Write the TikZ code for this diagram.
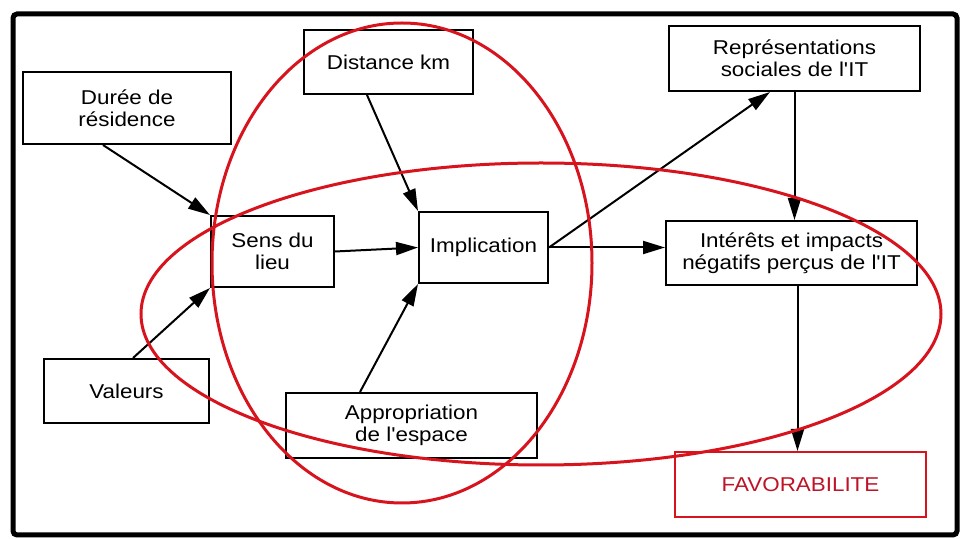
\documentclass[tikz,border=0pt]{standalone}
\usepackage{fontspec}
\newfontfamily\diagfont{Liberation Sans}[FakeStretch=1.12]
\usepackage{xcolor}
\usetikzlibrary{arrows.meta, positioning, calc}
\definecolor{markred}{RGB}{215,20,30}
\definecolor{textred}{RGB}{190,20,40}

\begin{document}
\begin{tikzpicture}[x=0.5pt, y=-0.5pt,
  box/.style={draw, line width=1pt, fill=white, align=center, inner sep=0pt,
    font=\diagfont\fontsize{10}{11.2}\selectfont},
  link/.style={-{Triangle[length=11pt,width=6.5pt]}, line width=1pt},
  zone/.style={draw=markred, line width=1.5pt}]
  \useasboundingbox (0,0) rectangle (960,539);
  % Frame
  \draw[line width=2.5pt, rounded corners=2pt] (13,14) rectangle (957,535);
  % Boxes
  \node[box, minimum width=104pt, minimum height=36pt] (duree) at (127,108) {Durée de\\résidence};
  \node[box, minimum width=84.5pt, minimum height=32pt] (distance) at (388.5,62) {Distance km};
  \node[box, minimum width=125.5pt, minimum height=32.5pt] (repres) at (794.5,58.5) {Représentations\\sociales de l'IT};
  \node[box, minimum width=61.5pt, minimum height=35.5pt] (sens) at (272.5,251.5) {Sens du\\lieu};
  \node[box, minimum width=64.5pt, minimum height=35.5pt] (implic) at (483.5,247.5) {Implication};
  \node[box, minimum width=125.5pt, minimum height=32pt] (interets) at (791.5,253) {Intérêts et impacts\\négatifs perçus de l'IT};
  \node[box, minimum width=82.5pt, minimum height=32pt] (valeurs) at (126.5,391) {Valeurs};
  \node[box, minimum width=125.5pt, minimum height=32.5pt] (approp) at (411.5,425.5) {Appropriation\\de l'espace};
  \node[box, draw=markred, text=textred, minimum width=125.5pt, minimum height=32.5pt] (favor) at (800.5,484.5) {FAVORABILITE};
  % Links
  \draw[link] ([xshift=-12pt]duree.south) -- (sens.north west);
  \draw[link] ([xshift=3.25pt]valeurs.north) -- (sens.south west);
  \draw[link] ([xshift=-10.75pt]distance.south) -- (implic.north west);
  \draw[link] (sens.east) -- (implic.west);
  \draw[link] ([xshift=-25.75pt]approp.north) -- (implic.south west);
  \draw[link] (implic.east) -- ([xshift=-12.25pt]repres.south);
  \draw[link] (implic.east) -- (implic.east -| interets.west);
  \draw[link] (repres.south) -- (repres.south |- interets.north);
  \draw[link] ([xshift=3pt]interets.south) -- ([xshift=3pt]interets.south |- favor.north);
  % Zones
  \draw[zone] (402,263) ellipse [x radius=190, y radius=240];
  \draw[zone] (541,314) ellipse [x radius=400, y radius=151];
\end{tikzpicture}
\end{document}
